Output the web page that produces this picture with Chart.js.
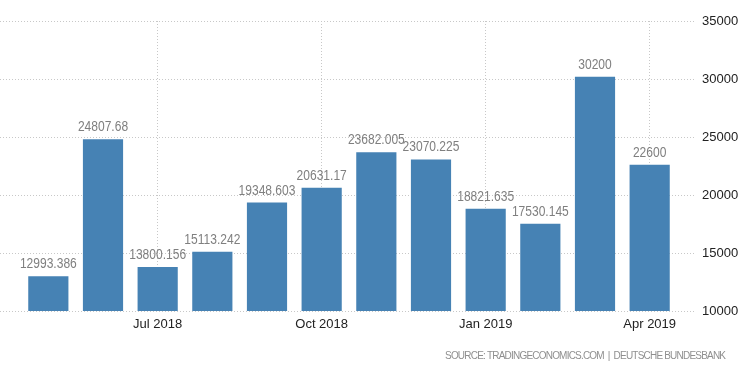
<!DOCTYPE html>
<html>
<head>
<meta charset="utf-8">
<script src="https://cdn.jsdelivr.net/npm/chart.js@4.4.1/dist/chart.umd.min.js"></script>
<style>
  html, body { margin: 0; padding: 0; background: #fff; }
  #wrap { width: 750px; height: 373px; position: relative; }
</style>
</head>
<body>
<div id="wrap"><canvas id="c" width="750" height="373"></canvas></div>
<script>
const categories = ['May 2018','Jun 2018','Jul 2018','Aug 2018','Sep 2018','Oct 2018','Nov 2018','Dec 2018','Jan 2019','Feb 2019','Mar 2019','Apr 2019'];
const values = [12993.386, 24807.68, 13800.156, 15113.242, 19348.603, 20631.17, 23682.005, 23070.225, 18821.635, 17530.145, 30200, 22600];
const shownTickLabels = ['Jul 2018','Oct 2018','Jan 2019','Apr 2019'];
const yTicks = [10000, 15000, 20000, 25000, 30000, 35000];
const sourceText = 'SOURCE: TRADINGECONOMICS.COM  |  DEUTSCHE BUNDESBANK';

const BAR = 'rgb(70,130,180)';
const FONT = '"Liberation Sans", Arial, sans-serif';

const hGrid = {
  id: 'hGrid',
  beforeDatasetsDraw(chart) {
    const ctx = chart.ctx, y = chart.scales.y;
    ctx.save();
    ctx.strokeStyle = '#c8c8c8';
    ctx.lineWidth = 1;
    ctx.setLineDash([1, 2]);
    yTicks.forEach(v => {
      const py = Math.round(y.getPixelForValue(v)) + 0.5;
      ctx.beginPath();
      ctx.moveTo(0, py);
      ctx.lineTo(chart.chartArea.right + 18, py);
      ctx.stroke();
    });
    ctx.restore();
  }
};

const labelsPlugin = {
  id: 'valLabels',
  afterDatasetsDraw(chart) {
    const ctx = chart.ctx;
    const meta = chart.getDatasetMeta(0);
    ctx.save();
    ctx.fillStyle = 'rgba(105,105,105,0.85)';
    ctx.font = '14px ' + FONT;
    ctx.textAlign = 'center';
    ctx.textBaseline = 'alphabetic';
    meta.data.forEach((bar, i) => {
      ctx.save();
      ctx.translate(bar.x, bar.y - 8);
      ctx.scale(0.86, 1);
      ctx.fillText(String(values[i]), 0, 0);
      ctx.restore();
    });
    ctx.restore();
  }
};

const footer = {
  id: 'footer',
  afterDraw(chart) {
    const ctx = chart.ctx;
    ctx.save();
    ctx.fillStyle = '#8f8f8f';
    ctx.font = '10px ' + FONT;
    ctx.textAlign = 'left';
    ctx.textBaseline = 'middle';
    const targetW = 281;
    const w = ctx.measureText(sourceText).width;
    const spacing = (targetW - w) / (sourceText.length - 1);
    let x = 445;
    for (const ch of sourceText) {
      ctx.fillText(ch, x, 356);
      x += ctx.measureText(ch).width + spacing;
    }
    ctx.restore();
  }
};

new Chart(document.getElementById('c'), {
  type: 'bar',
  data: {
    labels: categories,
    datasets: [{
      data: values,
      backgroundColor: BAR,
      borderWidth: 0,
      categoryPercentage: 1,
      barPercentage: 0.735
    }]
  },
  options: {
    responsive: false,
    animation: false,
    layout: { padding: { left: 21, top: 21, right: 0, bottom: 0 } },
    plugins: { legend: { display: false }, tooltip: { enabled: false } },
    scales: {
      x: {
        offset: true,
        border: { display: false, dash: [1, 2] },
        grid: {
          offset: false,
          drawTicks: false,
          lineWidth: 1,
          color: ctx => shownTickLabels.includes(categories[ctx.index]) ? '#c8c8c8' : 'rgba(0,0,0,0)'
        },
        ticks: {
          autoSkip: false,
          maxRotation: 0,
          padding: 6,
          color: '#222',
          font: { family: FONT, size: 13 },
          callback: function(v, i) { return shownTickLabels.includes(categories[i]) ? categories[i] : ''; }
        },
        afterFit: s => { s.height = 62; s.paddingLeft = 0; s.paddingRight = 0; }
      },
      y: {
        position: 'right',
        min: 10000,
        max: 35000,
        border: { display: false },
        grid: { display: false, drawTicks: false },
        ticks: {
          stepSize: 5000,
          padding: 25,
          color: '#222',
          font: { family: FONT, size: 13 },
          callback: v => String(v)
        },
        afterFit: s => { s.width = 73; s.paddingTop = 0; s.paddingBottom = 0; }
      }
    }
  },
  plugins: [hGrid, labelsPlugin, footer]
});
</script>
</body>
</html>
